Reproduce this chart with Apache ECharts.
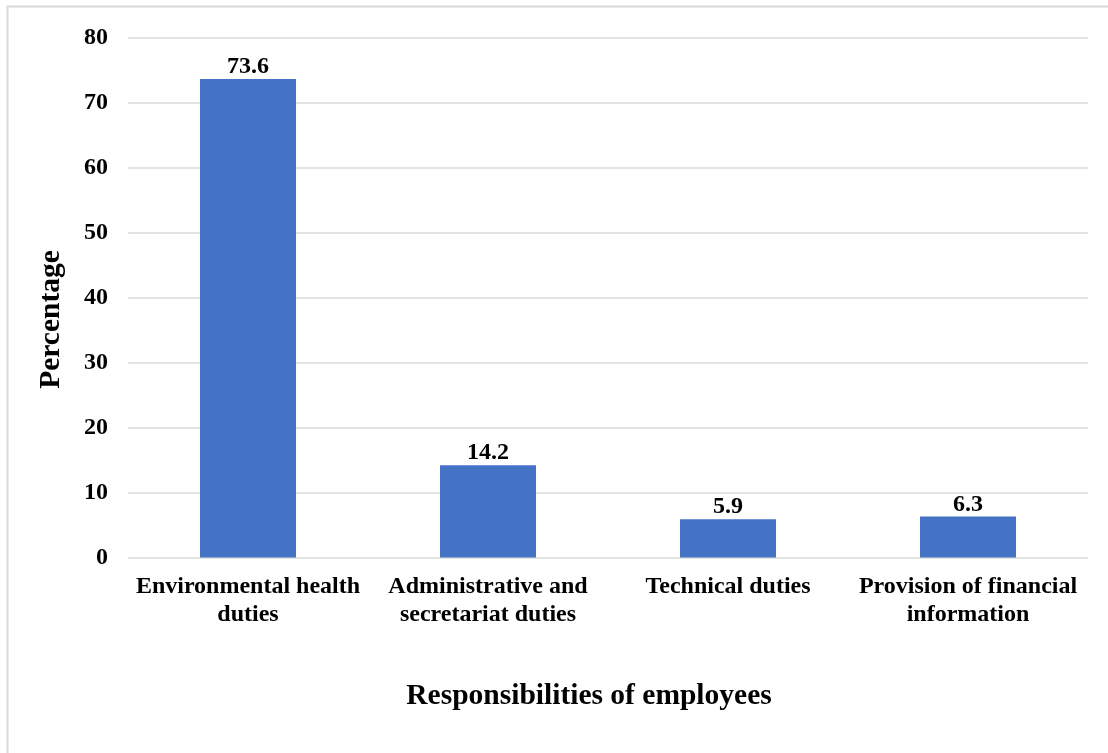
<!DOCTYPE html>
<html>
<head>
<meta charset="utf-8">
<script src="https://cdn.jsdelivr.net/npm/echarts@6/dist/echarts.min.js"></script>
<style>
  html, body { margin: 0; padding: 0; background: #fff; }
  #chart { width: 1108px; height: 753px; }
</style>
</head>
<body>
<div id="chart"></div>
<script>
// Share of employees by main responsibility
const categories = [
  'Environmental health\nduties',
  'Administrative and\nsecretariat duties',
  'Technical duties',
  'Provision of financial\ninformation'
];
const percentages = [73.6, 14.2, 5.9, 6.3];
const yTicks = { min: 0, max: 80, interval: 10 };

const FONT = '"Liberation Serif", "Times New Roman", serif';

const chart = echarts.init(document.getElementById('chart'), null, { renderer: 'canvas' });
chart.setOption({
  animation: false,
  backgroundColor: '#ffffff',
  graphic: [{
    type: 'rect',
    shape: { x: 7.5, y: 6.5, width: 1300, height: 1000 },
    style: { fill: 'none', stroke: '#d9d9d9', lineWidth: 2 },
    silent: true,
    z: -1
  }],
  grid: { left: 128, right: 20, top: 37.5, bottom: 195.5, containLabel: false },
  xAxis: {
    type: 'category',
    data: categories,
    name: 'Responsibilities of employees',
    nameLocation: 'middle',
    nameGap: 124,
    nameTextStyle: {
      fontFamily: FONT, fontWeight: 'bold', fontSize: 29.5, color: '#000',
      padding: [0, 38, 0, 0]
    },
    axisLine: { show: false },
    axisTick: { show: false },
    axisLabel: {
      interval: 0,
      margin: 15,
      fontFamily: FONT, fontWeight: 'bold', fontSize: 24, color: '#000',
      lineHeight: 28
    }
  },
  yAxis: {
    type: 'value',
    min: yTicks.min, max: yTicks.max, interval: yTicks.interval,
    name: 'Percentage',
    nameLocation: 'middle',
    nameGap: 62,
    nameRotate: 90,
    nameTextStyle: {
      fontFamily: FONT, fontWeight: 'bold', fontSize: 29.5, color: '#000',
      padding: [0, 44, 0, 0]
    },
    axisLine: { show: false },
    axisTick: { show: false },
    axisLabel: { margin: 20, fontFamily: FONT, fontWeight: 'bold', fontSize: 24, color: '#000' },
    splitLine: { lineStyle: { color: '#d9d9d9', width: 1.5 } }
  },
  series: [{
    type: 'bar',
    data: percentages,
    barWidth: '40%',
    itemStyle: { color: '#4472c4' },
    label: {
      show: true,
      position: 'top',
      distance: 0,
      fontFamily: FONT, fontWeight: 'bold', fontSize: 24, color: '#000'
    }
  }]
});
</script>
</body>
</html>
